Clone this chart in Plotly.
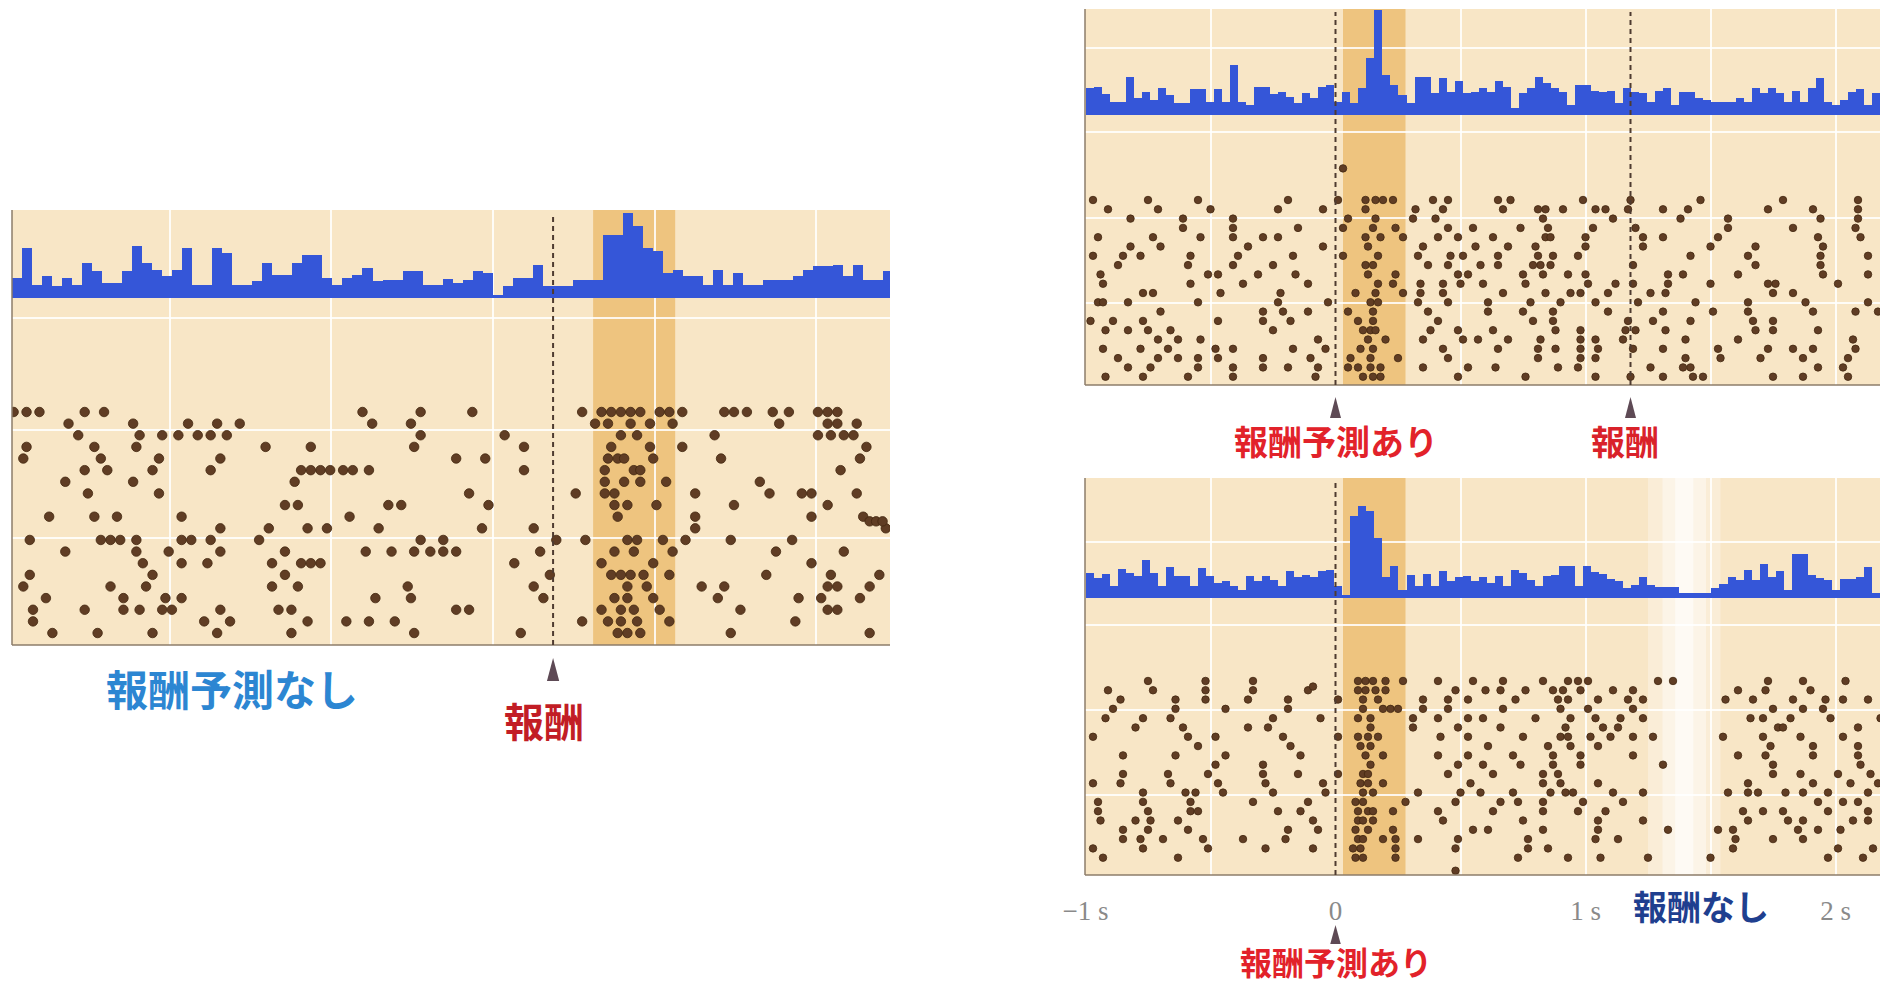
import plotly.graph_objects as go

FIG_W, FIG_H = 1880, 984

# ---------------- histogram data (counts per bin, arbitrary units) ----------------
L_HIST_START = -1.675
L_HIST_WIDTH = 0.031
L_HIST = [20, 50, 13, 22, 12, 20, 13, 35, 27, 15,
          15, 27, 52, 35, 28, 22, 28, 50, 13, 13,
          50, 45, 13, 13, 17, 35, 23, 23, 35, 43,
          43, 20, 13, 20, 23, 30, 17, 18, 18, 27,
          27, 13, 13, 19, 15, 18, 27, 25, 3, 12,
          20, 20, 33, 12, 12, 12, 18, 18, 18, 63,
          63, 85, 72, 50, 47, 25, 28, 22, 22, 13,
          28, 13, 25, 13, 13, 18, 18, 18, 22, 28,
          32, 32, 33, 22, 33, 18, 18, 27]

R_HIST_START = -1.0
R_HIST_WIDTH = 0.0321
TR_HIST = [27, 28, 21, 13, 13, 38, 17, 23, 15, 27,
           20, 12, 12, 26, 26, 13, 26, 13, 50, 13,
           10, 28, 28, 21, 23, 18, 12, 22, 17, 28,
           30, 13, 23, 12, 27, 57, 105, 40, 30, 20,
           12, 38, 38, 22, 37, 23, 34, 22, 23, 27,
           23, 34, 28, 7, 22, 27, 38, 32, 27, 23,
           10, 30, 30, 24, 23, 24, 12, 27, 23, 22,
           13, 24, 27, 10, 23, 23, 17, 15, 13, 13,
           13, 17, 13, 27, 22, 27, 22, 13, 24, 13,
           27, 37, 13, 10, 15, 23, 26, 10, 22]
BR_HIST = [25, 20, 24, 12, 29, 25, 22, 38, 25, 12,
           31, 22, 22, 12, 30, 22, 15, 17, 12, 8,
           22, 17, 22, 18, 12, 27, 21, 23, 21, 27,
           28, 12, 3, 82, 92, 87, 60, 21, 32, 8,
           23, 12, 24, 12, 27, 17, 21, 22, 17, 21,
           15, 22, 12, 28, 25, 18, 12, 22, 23, 32,
           32, 12, 32, 26, 24, 19, 17, 10, 13, 21,
           13, 11, 11, 11, 5, 5, 5, 5, 10, 14,
           21, 18, 28, 18, 34, 21, 27, 8, 44, 44,
           23, 20, 18, 8, 19, 19, 21, 31, 5]

# ---------------- events (s) ----------------
L_REWARD_T = 0.0
L_WINDOW = [0.124, 0.378]
TR_CS_T = 0.0
TR_REWARD_T = 1.18
TR_WINDOW = [0.03, 0.28]
BR_CS_T = 0.0
BR_WINDOW = [0.03, 0.28]
BR_OMIT = [1.25, 1.54]

# ---------------- raster data: trial row -> spike times (s) ----------------
L_ROWS = list(range(1, 21)) + [10.4]
L_SPIKES = [
    [-1.67, -1.63, -1.59, -1.45, -1.39, -0.59, -0.41, -0.25, 0.09, 0.15, 0.18, 0.21, 0.24, 0.27, 0.33, 0.36, 0.40, 0.53, 0.56, 0.60, 0.68, 0.73, 0.82, 0.85, 0.88],
    [-1.50, -1.30, -1.13, -1.04, -0.97, -0.56, -0.44, 0.13, 0.17, 0.24, 0.30, 0.37, 0.70, 0.85, 0.88, 0.94],
    [-1.47, -1.28, -1.21, -1.16, -1.10, -1.06, -1.01, -0.41, -0.15, 0.21, 0.26, 0.50, 0.82, 0.86, 0.90, 0.93],
    [-1.63, -1.42, -1.29, -0.89, -0.75, -0.43, -0.09, 0.18, 0.30, 0.40, 0.97],
    [-1.64, -1.40, -1.22, -1.03, -0.30, -0.21, 0.17, 0.20, 0.22, 0.31, 0.52, 0.95],
    [-1.45, -1.38, -1.24, -1.06, -0.78, -0.75, -0.72, -0.69, -0.65, -0.62, -0.57, -0.09, 0.16, 0.25, 0.27, 0.89],
    [-1.51, -1.30, -0.80, 0.16, 0.22, 0.27, 0.35, 0.64],
    [-1.44, -1.22, -0.26, 0.07, 0.16, 0.19, 0.44, 0.67, 0.77, 0.80, 0.94],
    [-0.83, -0.79, -0.51, -0.47, -0.20, 0.19, 0.23, 0.32, 0.56, 0.85],
    [-1.56, -1.42, -1.35, -1.15, -0.63, 0.20, 0.44, 0.80, 0.96],
    [-1.03, -0.88, -0.76, -0.70, -0.54, -0.22, -0.06, 0.44, 1.03],
    [-1.62, -1.40, -1.37, -1.34, -1.29, -1.15, -1.12, -1.06, -0.91, -0.41, -0.34, 0.01, 0.10, 0.23, 0.26, 0.34, 0.41, 0.55, 0.74],
    [-1.51, -1.29, -1.19, -1.03, -0.83, -0.58, -0.50, -0.43, -0.38, -0.34, -0.30, -0.04, 0.19, 0.25, 0.37, 0.69, 0.90],
    [-1.27, -1.15, -1.07, -0.87, -0.78, -0.75, -0.72, -0.12, 0.15, 0.31, 0.80],
    [-1.62, -1.24, -0.83, -0.01, 0.18, 0.21, 0.24, 0.28, 0.36, 0.66, 0.86, 1.01],
    [-1.64, -1.37, -1.26, -0.87, -0.79, -0.45, -0.06, 0.23, 0.29, 0.46, 0.53, 0.85, 0.88, 0.98],
    [-1.57, -1.33, -1.20, -1.15, -0.55, -0.44, -0.03, 0.19, 0.23, 0.31, 0.51, 0.76, 0.83, 0.95],
    [-1.61, -1.45, -1.33, -1.28, -1.21, -1.18, -1.03, -0.85, -0.81, -0.30, -0.26, 0.15, 0.21, 0.25, 0.33, 0.58, 0.85, 0.88],
    [-1.61, -1.08, -1.00, -0.76, -0.64, -0.57, -0.49, 0.09, 0.17, 0.21, 0.26, 0.36, 0.75],
    [-1.55, -1.41, -1.24, -1.04, -0.81, -0.43, -0.10, 0.20, 0.23, 0.27, 0.55, 0.98],
    [0.98, 1.00, 1.02],
]

TR_ROWS = list(range(1, 21)) + [-2.4]
TR_SPIKES = [
    [-0.97, -0.75, -0.55, -0.19, 0.01, 0.12, 0.16, 0.19, 0.23, 0.39, 0.45, 0.65, 0.70, 0.99, 1.18, 1.46, 1.79, 2.09],
    [-0.91, -0.71, -0.50, -0.23, -0.05, 0.12, 0.32, 0.43, 0.67, 0.81, 0.84, 0.91, 1.04, 1.08, 1.17, 1.31, 1.41, 1.73, 1.91, 2.09],
    [-0.82, -0.61, -0.41, 0.05, 0.16, 0.31, 0.40, 0.83, 1.11, 1.38, 1.57, 1.94, 2.09],
    [-0.61, -0.41, -0.15, 0.03, 0.15, 0.24, 0.45, 0.55, 0.74, 0.85, 1.03, 1.20, 1.57, 1.83, 2.08],
    [-0.95, -0.73, -0.54, -0.41, -0.29, -0.23, 0.12, 0.18, 0.27, 0.41, 0.49, 0.63, 0.84, 0.86, 1.00, 1.23, 1.31, 1.53, 1.93, 2.10],
    [-0.82, -0.70, -0.35, -0.05, 0.13, 0.35, 0.56, 0.69, 0.80, 1.00, 1.23, 1.50, 1.68, 1.95],
    [-0.97, -0.85, -0.78, -0.58, -0.39, -0.17, 0.03, 0.17, 0.33, 0.46, 0.51, 0.65, 0.81, 0.87, 0.97, 1.42, 1.65, 1.94, 2.13],
    [-0.87, -0.59, -0.41, -0.25, 0.12, 0.15, 0.37, 0.45, 0.58, 0.65, 0.79, 0.82, 0.86, 1.19, 1.68, 1.94],
    [-0.94, -0.51, -0.47, -0.31, -0.16, 0.13, 0.24, 0.49, 0.53, 0.75, 0.83, 0.93, 1.00, 1.33, 1.39, 1.61, 1.95, 2.13],
    [-0.93, -0.58, -0.37, -0.11, 0.17, 0.23, 0.34, 0.43, 0.50, 0.59, 0.76, 1.01, 1.12, 1.19, 1.33, 1.50, 1.73, 1.76, 2.01],
    [-0.77, -0.73, -0.46, -0.22, 0.08, 0.16, 0.27, 0.34, 0.43, 0.67, 0.84, 0.94, 0.98, 1.09, 1.26, 1.32, 1.75, 1.83],
    [-0.95, -0.93, -0.83, -0.55, -0.23, -0.03, 0.14, 0.17, 0.33, 0.45, 0.61, 0.78, 0.90, 1.04, 1.21, 1.44, 1.65, 1.88, 2.13],
    [-0.70, -0.29, -0.21, -0.11, 0.05, 0.15, 0.37, 0.61, 0.75, 0.87, 1.09, 1.31, 1.51, 1.65, 1.91, 2.08, 2.17],
    [-0.98, -0.89, -0.77, -0.47, -0.29, -0.18, 0.09, 0.15, 0.41, 0.79, 0.87, 1.17, 1.27, 1.42, 1.67, 1.75],
    [-0.92, -0.83, -0.75, -0.66, -0.25, 0.11, 0.14, 0.16, 0.38, 0.49, 0.63, 0.88, 0.98, 1.16, 1.20, 1.32, 1.68, 1.75, 1.93],
    [-0.71, -0.63, -0.54, -0.07, 0.13, 0.20, 0.35, 0.51, 0.57, 0.69, 0.82, 0.98, 1.04, 1.15, 1.40, 1.61, 2.07],
    [-0.93, -0.78, -0.67, -0.48, -0.41, -0.17, -0.04, 0.10, 0.15, 0.43, 0.65, 0.81, 0.88, 0.98, 1.05, 1.19, 1.31, 1.53, 1.73, 1.83, 1.91, 2.08],
    [-0.87, -0.71, -0.63, -0.55, -0.47, -0.29, -0.10, 0.06, 0.14, 0.25, 0.45, 0.81, 0.98, 1.04, 1.40, 1.54, 1.70, 1.87, 2.05],
    [-0.83, -0.74, -0.55, -0.41, -0.29, -0.19, -0.07, 0.05, 0.09, 0.14, 0.18, 0.35, 0.53, 0.64, 0.89, 0.97, 1.26, 1.39, 1.42, 1.93, 2.03],
    [-0.92, -0.77, -0.59, -0.41, -0.08, 0.11, 0.15, 0.18, 0.49, 0.76, 1.04, 1.18, 1.31, 1.43, 1.47, 1.75, 1.87, 2.05],
    [0.03],
]

BR_ROWS = list(range(1, 21)) + [1.6, 21.4]
BR_SPIKES = [
    [-0.75, -0.52, -0.33, 0.09, 0.12, 0.15, 0.20, 0.27, 0.41, 0.55, 0.67, 0.83, 0.93, 0.97, 1.01, 1.29, 1.35, 1.73, 1.87, 2.04],
    [-0.91, -0.73, -0.52, -0.33, -0.11, 0.09, 0.12, 0.16, 0.20, 0.48, 0.60, 0.66, 0.76, 0.87, 0.91, 0.98, 1.11, 1.19, 1.61, 1.72, 1.90],
    [-0.86, -0.64, -0.52, -0.35, -0.19, 0.01, 0.11, 0.17, 0.35, 0.45, 0.53, 0.72, 0.89, 0.93, 1.05, 1.17, 1.23, 1.56, 1.67, 1.83, 1.96, 2.03, 2.13],
    [-0.89, -0.64, -0.44, -0.19, 0.11, 0.19, 0.22, 0.25, 0.35, 0.45, 0.67, 0.90, 1.01, 1.19, 1.75, 1.87, 1.95],
    [-0.92, -0.77, -0.66, -0.25, -0.06, 0.09, 0.14, 0.31, 0.41, 0.53, 0.59, 0.80, 0.94, 1.04, 1.14, 1.23, 1.66, 1.71, 1.82, 1.98, 2.18],
    [-0.80, -0.61, -0.35, -0.27, 0.14, 0.31, 0.49, 0.66, 0.92, 1.07, 1.13, 1.77, 1.79, 2.09],
    [-0.97, -0.59, -0.48, -0.21, 0.01, 0.09, 0.13, 0.17, 0.42, 0.53, 0.75, 0.90, 0.93, 1.02, 1.10, 1.19, 1.27, 1.55, 1.71, 1.86, 2.03],
    [-0.55, -0.18, 0.10, 0.14, 0.61, 0.85, 0.94, 1.05, 1.74, 1.91, 2.09],
    [-0.85, -0.64, -0.44, -0.14, 0.12, 0.19, 0.41, 0.53, 0.71, 0.87, 0.98, 1.19, 1.61, 1.72, 1.91, 2.09],
    [-0.48, -0.29, 0.14, 0.49, 0.59, 0.74, 0.87, 0.98, 1.31, 1.75, 2.10],
    [-0.85, -0.67, -0.51, -0.29, -0.15, 0.01, 0.11, 0.13, 0.45, 0.63, 0.83, 0.89, 1.75, 1.86, 2.01, 2.14],
    [-0.97, -0.86, -0.66, -0.47, -0.28, -0.05, 0.10, 0.13, 0.19, 0.54, 0.83, 0.90, 1.05, 1.65, 1.91, 2.06, 2.17],
    [-0.77, -0.60, -0.56, -0.45, -0.25, -0.04, 0.11, 0.15, 0.33, 0.50, 0.58, 0.71, 0.86, 0.92, 0.95, 1.11, 1.23, 1.57, 1.65, 1.69, 1.80, 1.87, 1.97, 2.13],
    [-0.95, -0.77, -0.58, -0.33, -0.11, 0.08, 0.11, 0.28, 0.48, 0.66, 0.73, 0.83, 0.99, 1.15, 1.93, 2.03, 2.09],
    [-0.95, -0.75, -0.58, -0.55, -0.23, -0.14, 0.09, 0.13, 0.15, 0.23, 0.41, 0.63, 0.83, 0.97, 1.08, 1.63, 1.71, 1.79, 1.97, 2.13],
    [-0.94, -0.80, -0.74, -0.63, -0.09, 0.09, 0.11, 0.15, 0.43, 0.75, 1.05, 1.23, 1.65, 1.81, 1.87, 2.07, 2.13],
    [-0.85, -0.75, -0.59, -0.19, -0.07, 0.08, 0.13, 0.23, 0.55, 0.61, 0.83, 1.05, 1.33, 1.53, 1.59, 1.85, 1.93, 2.02],
    [-0.85, -0.78, -0.69, -0.53, -0.37, -0.20, 0.09, 0.11, 0.19, 0.24, 0.33, 0.49, 0.77, 1.04, 1.13, 1.60, 1.75, 1.87],
    [-0.97, -0.77, -0.51, -0.28, -0.09, 0.07, 0.10, 0.24, 0.48, 0.77, 0.85, 1.59, 2.01, 2.15],
    [-0.93, -0.63, 0.08, 0.11, 0.24, 0.73, 0.93, 1.06, 1.25, 1.50, 1.97, 2.11],
    [-0.09],
    [0.48],
]

R_TICK_VALS = [-1, 0, 1, 2]
R_TICK_TEXT = ["\u22121 s", "0", "1 s", "2 s"]

# ---------------- styling ----------------
BG = "#F8E6C6"
ORANGE = "#EEC47F"
BLUE = "#3556D8"
DOT = "#603D24"
DOT_EDGE = "#43270F"
GRID = "rgba(255,255,255,0.85)"
FRAME = "#8C7C6A"
DASH = "#4E3B30"
ARROW = "#5E4A55"


def py(px):
    return 1 - px / FIG_H


def pxx(px):
    return px / FIG_W


def centers(start, width, n):
    return [start + (i + 0.5) * width for i in range(n)]


def flatten(rows, spikes):
    xs, ys = [], []
    for r, ts in zip(rows, spikes):
        xs += ts
        ys += [r] * len(ts)
    return xs, ys


# panel geometry (pixels)
PANELS = {
    "L": dict(x0=12, x1=890, top=210, base=298, bottom=645, xr=[-1.675, 1.043],
              hist_max=88, rows=[21.03, -8.8], grid_rows=[-7.08, 2.55, 11.83], hist_grid=[]),
    "TR": dict(x0=1085, x1=1880, top=9, base=115, bottom=385, xr=[-1.002, 2.178],
               hist_max=106, rows=[20.89, -8.14], grid_rows=[-6.31, 2.94, 12.08], hist_grid=[67]),
    "BR": dict(x0=1085, x1=1880, top=478, base=598, bottom=875, xr=[-1.002, 2.178],
               hist_max=120, rows=[21.86, -7.92], grid_rows=[-5.02, 4.12, 13.26], hist_grid=[56]),
}

fig = go.Figure()

# histograms
fig.add_trace(go.Bar(x=centers(L_HIST_START, L_HIST_WIDTH, len(L_HIST)), y=L_HIST, width=L_HIST_WIDTH,
                     xaxis="x2", yaxis="y2", marker=dict(color=BLUE, line=dict(width=0)), showlegend=False))
fig.add_trace(go.Bar(x=centers(R_HIST_START, R_HIST_WIDTH, len(TR_HIST)), y=TR_HIST, width=R_HIST_WIDTH,
                     xaxis="x4", yaxis="y4", marker=dict(color=BLUE, line=dict(width=0)), showlegend=False))
fig.add_trace(go.Bar(x=centers(R_HIST_START, R_HIST_WIDTH, len(BR_HIST)), y=BR_HIST, width=R_HIST_WIDTH,
                     xaxis="x6", yaxis="y6", marker=dict(color=BLUE, line=dict(width=0)), showlegend=False))

# rasters
for rows, spikes, xa, ya, size in [(L_ROWS, L_SPIKES, "x", "y", 9.5),
                                   (TR_ROWS, TR_SPIKES, "x3", "y3", 7.5),
                                   (BR_ROWS, BR_SPIKES, "x5", "y5", 7.5)]:
    xs, ys = flatten(rows, spikes)
    fig.add_trace(go.Scatter(x=xs, y=ys, mode="markers", xaxis=xa, yaxis=ya, showlegend=False,
                             marker=dict(size=size, color=DOT, line=dict(width=0.8, color=DOT_EDGE))))

layout = dict(width=FIG_W, height=FIG_H,
              margin=dict(l=0, r=0, t=0, b=0, pad=0, autoexpand=False), autosize=False,
              paper_bgcolor="white", plot_bgcolor="rgba(0,0,0,0)", bargap=0, showlegend=False)

axis_common = dict(showline=False, zeroline=False, ticks="", showticklabels=False, automargin=False,
                   gridcolor=GRID, gridwidth=2, fixedrange=True)

keys = {"L": ("", "2"), "TR": ("3", "4"), "BR": ("5", "6")}
for name, p in PANELS.items():
    kr, kh = keys[name]
    dom_x = [pxx(p["x0"]), pxx(p["x1"])]
    if name == "L":
        xgrid = dict(tick0=-0.186, dtick=0.5, showgrid=True)
    else:
        xgrid = dict(tickvals=[-0.5, 0.5, 1, 1.5, 2], showgrid=True)
    xr = dict(axis_common, domain=dom_x, range=p["xr"], anchor="y" + kr, **xgrid)
    if name == "BR":
        xr.update(tickvals=R_TICK_VALS, ticktext=R_TICK_TEXT, showticklabels=True, showgrid=False,
                  ticklabelstandoff=17,
                  tickfont=dict(family="Liberation Serif, DejaVu Serif, serif", size=27, color="#8A8A8A"),
                  minor=dict(tickvals=[-0.5, 0.5, 1, 1.5, 2], showgrid=True, gridcolor=GRID, gridwidth=2, ticks=""))
    layout["xaxis" + kr] = xr
    layout["xaxis" + kh] = dict(axis_common, domain=dom_x, range=p["xr"], anchor="y" + kh,
                                matches="x" + kr, **xgrid)
    layout["yaxis" + kr] = dict(axis_common, domain=[py(p["bottom"]), py(p["base"])], range=p["rows"],
                                anchor="x" + kr, tickvals=p["grid_rows"], showgrid=True)
    layout["yaxis" + kh] = dict(axis_common, domain=[py(p["base"]), py(p["top"])], range=[0, p["hist_max"]],
                                anchor="x" + kh, tickvals=p["hist_grid"], showgrid=len(p["hist_grid"]) > 0)

shapes = []
# panel backgrounds
for p in PANELS.values():
    shapes.append(dict(type="rect", xref="paper", yref="paper", x0=pxx(p["x0"]), x1=pxx(p["x1"]),
                       y0=py(p["bottom"]), y1=py(p["top"]), fillcolor=BG, line=dict(width=0), layer="below"))
# response windows
for win, xa, p in [(L_WINDOW, "x", PANELS["L"]), (TR_WINDOW, "x3", PANELS["TR"]), (BR_WINDOW, "x5", PANELS["BR"])]:
    shapes.append(dict(type="rect", xref=xa, yref="paper", x0=win[0], x1=win[1],
                       y0=py(p["bottom"]), y1=py(p["top"]), fillcolor=ORANGE, line=dict(width=0), layer="below"))
# omitted-reward pale band (soft gradient)
pb = PANELS["BR"]
mid = (BR_OMIT[0] + BR_OMIT[1]) / 2
for frac, op in [(1.0, 0.3), (0.6, 0.4), (0.25, 0.55)]:
    half = (BR_OMIT[1] - BR_OMIT[0]) / 2 * frac
    shapes.append(dict(type="rect", xref="x5", yref="paper", x0=mid - half, x1=mid + half,
                       y0=py(pb["bottom"]), y1=py(pb["top"]), fillcolor="white", opacity=op,
                       line=dict(width=0), layer="below"))
# frame lines (left + bottom)
for p in PANELS.values():
    shapes.append(dict(type="line", xref="paper", yref="paper", x0=pxx(p["x0"]), x1=pxx(p["x0"]),
                       y0=py(p["bottom"]), y1=py(p["top"]), line=dict(color=FRAME, width=1.5)))
    shapes.append(dict(type="line", xref="paper", yref="paper", x0=pxx(p["x0"]), x1=pxx(p["x1"]),
                       y0=py(p["bottom"]), y1=py(p["bottom"]), line=dict(color=FRAME, width=1.5)))
# event dashed lines
for t, xa, p, ytop in [(L_REWARD_T, "x", PANELS["L"], 216), (TR_CS_T, "x3", PANELS["TR"], 12),
                       (TR_REWARD_T, "x3", PANELS["TR"], 12), (BR_CS_T, "x5", PANELS["BR"], 480)]:
    shapes.append(dict(type="line", xref=xa, yref="paper", x0=t, x1=t, y0=py(p["bottom"]), y1=py(ytop),
                       line=dict(color=DASH, width=2, dash="5px,4px")))
# arrow markers below the panels
for t, xa, tip, basep, hw in [(L_REWARD_T, "x", 658, 681, 0.019), (TR_CS_T, "x3", 397, 418, 0.022),
                              (TR_REWARD_T, "x3", 397, 418, 0.022), (BR_CS_T, "x5", 925, 944, 0.021)]:
    shapes.append(dict(type="path", xref=xa, yref="paper",
                       path=f"M {t},{py(tip)} L {t - hw},{py(basep)} L {t + hw},{py(basep)} Z",
                       fillcolor=ARROW, line=dict(width=0)))
layout["shapes"] = shapes

CJK = "Noto Sans CJK JP, Noto Sans CJK SC, sans-serif"
ann = []


def label(text, x, xref, ypx, size, color, xshift=0):
    ann.append(dict(text=text, x=x, xref=xref, y=py(ypx), yref="paper", showarrow=False,
                    xanchor="center", yanchor="middle", xshift=xshift,
                    font=dict(family=CJK, size=size, color=color, weight="bold")))


label("報酬予測なし", pxx(232), "paper", 687, 42, "#2C86D2")
label("報酬", L_REWARD_T, "x", 720, 40, "#C21D25", xshift=-9)
label("報酬予測あり", TR_CS_T, "x3", 440, 34, "#E2222A")
label("報酬", TR_REWARD_T, "x3", 440, 34, "#D9222A", xshift=-6)
label("報酬予測あり", BR_CS_T, "x5", 961, 32, "#E2222A")
label("報酬なし", 1.46, "x5", 905, 34, "#1F3F8F")
layout["annotations"] = ann

fig.update_layout(**layout)
fig.write_html("out.html", config={"displayModeBar": False, "staticPlot": True},
               post_script="document.body.style.margin='0px';document.body.style.overflow='hidden';")
